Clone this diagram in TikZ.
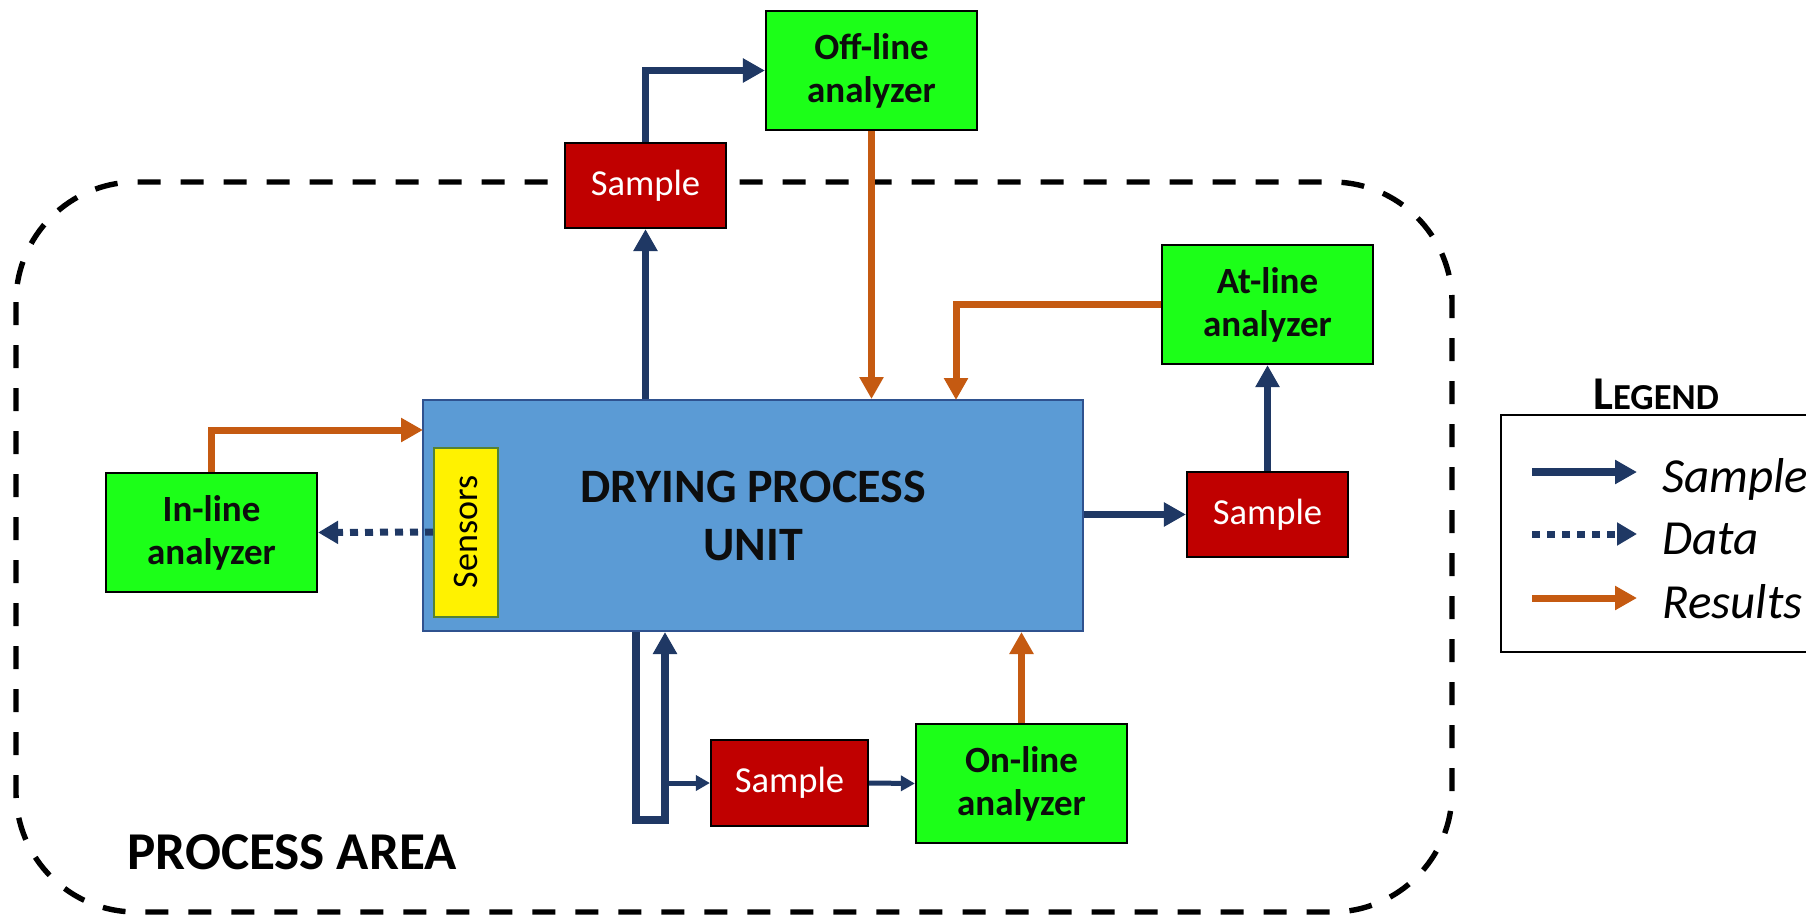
\documentclass[tikz,border=0pt]{standalone}
\usepackage{fontspec}
\setmainfont{Carlito}
\usepackage{xcolor}
\usepackage{tikz}
\usetikzlibrary{positioning,arrows.meta}
\definecolor{navy}{RGB}{31,56,100}
\definecolor{resorange}{RGB}{197,90,17}
\definecolor{anagreen}{RGB}{28,255,24}
\definecolor{smpred}{RGB}{192,0,0}
\definecolor{unitblue}{RGB}{91,155,213}
\definecolor{unitedge}{RGB}{47,82,143}
\definecolor{sensedge}{RGB}{84,130,53}

\begin{document}
\begin{tikzpicture}[x=0.5pt,y=-0.5pt,
  analyzer/.style={draw=black,line width=1.1pt,fill=anagreen,minimum width=105.5pt,minimum height=59.5pt,
    align=center,text=black!95,font=\fontsize{18.5}{21.5}\selectfont\bfseries},
  smp/.style={draw=black,line width=1.1pt,fill=smpred,minimum width=80.5pt,minimum height=42.5pt,
    text=white,font=\fontsize{18.3}{20}\selectfont},
  samplearr/.style={navy,line width=3.8pt,-{Triangle[length=11pt,width=11.5pt]}},
  resarr/.style={resorange,line width=3.5pt,-{Triangle[length=11pt,width=11.5pt]}},
  dataarr/.style={navy,line width=3.5pt,dash pattern=on 4pt off 3.5pt,-{Triangle[length=10pt,width=11pt]}},
  thinarr/.style={navy,line width=2.5pt,-{Triangle[length=7pt,width=7.5pt]}},
  legtext/.style={anchor=base west,inner sep=0pt,font=\fontsize{24.5}{26}\selectfont\itshape}]
  \fill[white] (0,0) rectangle (1806,916);
  \useasboundingbox (0,0) rectangle (1806,916);

  % process area
  \draw[line width=2.7pt,dash pattern=on 11.5pt off 10pt,rounded corners=60pt] (16,182) rectangle (1452,912);
  \node[font=\fontsize{26.6}{28}\selectfont\bfseries] (area) at (292,852) {PROCESS AREA};

  \node[draw=unitedge,line width=1pt,fill=unitblue,minimum width=330pt,minimum height=115.5pt,align=center,
    font=\fontsize{24}{29}\selectfont\bfseries,text=black!95] (unit) at (753,515.5) {DRYING PROCESS\\UNIT};
  \node[rotate=90,draw=sensedge,line width=1pt,fill=yellow,minimum width=84.5pt,minimum height=32pt,
    font=\fontsize{18}{20}\selectfont] (sensors) at (466,532) {Sensors};

  \node[analyzer] (offline) at (871.5,70.5) {Off-line\\analyzer};
  \node[analyzer] (atline) at (1267.5,304.5) {At-line\\analyzer};
  \node[analyzer] (inline) at (211.5,532.5) {In-line\\analyzer};
  \node[analyzer] (online) at (1021.5,783.5) {On-line\\analyzer};
  \node[smp] (topsmp) at (645.5,185.5) {Sample};
  \node[smp] (rsmp) at (1267.5,514.5) {Sample};
  \node[smp,minimum width=78.5pt,minimum height=43pt] (botsmp) at (789.5,783) {Sample};

  % off-line
  \draw[samplearr] (unit.north -| topsmp) -- (topsmp.south);
  \draw[samplearr] (topsmp.north) |- (offline.west);
  \draw[resarr] (offline.south) -- (offline.south |- unit.north);
  % at-line
  \coordinate (atdrop) at (956,400);
  \draw[samplearr] (unit.east |- rsmp) -- (rsmp.west);
  \draw[samplearr] (rsmp.north) -- (atline.south);
  \draw[resarr] (atline.west) -| (atdrop);
  % in-line
  \coordinate (inhit) at (423,430);
  \draw[resarr] (inline.north) |- (inhit);
  \draw[dataarr] (sensors.north) -- (inline.east);
  % on-line
  \coordinate (loopl) at (636,820);
  \coordinate (loopr) at (665,820);
  \draw[samplearr] (unit.south -| loopl) -- (loopl) -- (loopr) -- (unit.south -| loopr);
  \draw[thinarr] (loopr |- botsmp) -- (botsmp.west);
  \draw[thinarr] (botsmp.east) -- (online.west);
  \draw[resarr] (online.north) -- (online.north |- unit.south);

  % legend
  \node[font=\bfseries] (legtitle) at (1656,394) {{\fontsize{23.5}{24}\selectfont L}{\fontsize{18.3}{24}\selectfont EGEND}};
  \draw[line width=1.2pt] (1501,415) rectangle (1840,652);
  \foreach \y/\s/\t in {472/samplearr/Sample,534/dataarr/Data,598/resarr/Results}{
    \node[legtext] (leg\t) at (1662,\y+20) {\t};
    \draw[\s] (1532,\y) -- (1637,\y);
  }
\end{tikzpicture}
\end{document}
